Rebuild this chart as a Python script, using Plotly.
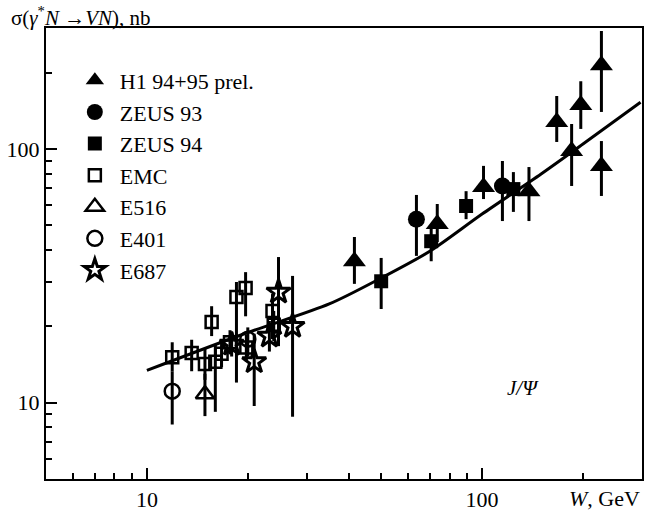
import plotly.graph_objects as go
import math

# ---- data ----
h1_w   = [41.6, 73.5, 101, 138, 185, 167, 197, 227, 227]
h1_s   = [36.1, 50.6, 70.8, 68.2, 98.2, 127.8, 149, 214, 85.8]
h1_hi  = [45, 60.7, 85.8, 84.9, 125.5, 161.8, 185, 292, 107.5]
h1_lo  = [29.4, 43, 63.5, 52, 71.5, 106.6, 120, 140, 65.3]

z93_w  = [63.7, 115]
z93_s  = [52.9, 71.5]
z93_hi = [65.9, 89.7]
z93_lo = [37.9, 52]

z94_w  = [50, 70.5, 89.6, 124]
z94_s  = [30.1, 43.3, 59.6, 69.5]
z94_hi = [37.2, 49, 68.2, 81.1]
z94_lo = [23.4, 36.1, 52.9, 56.5]

emc_w  = [11.9, 13.6, 14.9, 15.6, 16.0, 16.7, 17.7, 18.5, 19.7, 19.8, 23.7, 23.9]
emc_s  = [15.1, 15.7, 14.2, 20.8, 14.5, 15.6, 17.3, 26.1, 28.3, 16.5, 23.0, 20.3]
emc_hi = [17.3, 17.7, 16.3, 24.0, 17.0, 17.5, 19.3, 29.9, 32.7, 18.5, 26.8, 23.0]
emc_lo = [13.3, 13.3, 12.3, 18.3, 9.2, 13.8, 15.5, 12.0, 21.9, 14.5, 17.8, 17.5]

e516_w  = [14.9]
e516_s  = [10.8]
e516_hi = [13.0]
e516_lo = [8.85]

e401_w  = [11.9, 20.0]
e401_s  = [11.1, 17.8]
e401_hi = [13.3, 19.8]
e401_lo = [8.2, 15.2]

e687_w  = [17.9, 20.9, 23.2, 24.7, 27.2]
e687_s  = [17.0, 14.5, 18.3, 27.3, 20.0]
e687_hi = [19.0, 18.7, 21.0, 37.5, 31.6]
e687_lo = [15.2, 9.7, 15.9, 16.7, 8.8]

fit_w = [10, 20, 35, 50, 70, 100, 150, 200, 297]
fit_s = [13.4, 18.9, 24.5, 31.0, 39.6, 55.4, 79.7, 104.6, 153]

x_major = [10, 100]
y_major = [10, 100]
x_minor = [6, 7, 8, 9, 20, 30, 40, 50, 60, 70, 80, 90, 200]
y_minor = [6, 7, 8, 9, 20, 30, 40, 50, 60, 70, 80, 90, 200]

FONT = "Liberation Serif"
RANGE = [math.log10(5), math.log10(300)]

fig = go.Figure()

fig.add_trace(go.Scatter(x=fit_w, y=fit_s, mode="lines",
                         line=dict(color="black", width=3, shape="spline", smoothing=0.8),
                         showlegend=False, hoverinfo="skip"))

def series(name, w, s, hi, lo, symbol, size, lw=0):
    fig.add_trace(go.Scatter(
        x=w, y=s, mode="markers", name=name,
        marker=dict(symbol=symbol, size=size, color="black",
                    line=dict(color="black", width=lw)),
        error_y=dict(type="data", symmetric=False,
                     array=[h - v for h, v in zip(hi, s)],
                     arrayminus=[v - l for v, l in zip(s, lo)],
                     color="black", thickness=3, width=0),
    ))

series("H1 94+95 prel.", h1_w, h1_s, h1_hi, h1_lo, "triangle-up", 20)
series("ZEUS 93", z93_w, z93_s, z93_hi, z93_lo, "circle", 17)
series("ZEUS 94", z94_w, z94_s, z94_hi, z94_lo, "square", 14)
series("EMC", emc_w, emc_s, emc_hi, emc_lo, "square-open", 12, 2.5)
series("E516", e516_w, e516_s, e516_hi, e516_lo, "triangle-up-open", 16, 2.5)
series("E401", e401_w, e401_s, e401_hi, e401_lo, "circle-open", 15, 2.5)
series("E687", e687_w, e687_s, e687_hi, e687_lo, "star-open", 18, 3)

# invisible trace on overlay axes that carry the minor ticks
fig.add_trace(go.Scatter(x=fit_w, y=fit_s, xaxis="x2", yaxis="y2", mode="lines",
                         line=dict(width=0, color="rgba(0,0,0,0)"),
                         showlegend=False, hoverinfo="skip"))

axis_common = dict(
    type="log", showgrid=False, zeroline=False, automargin=False,
    showline=True, linecolor="black", linewidth=2, mirror=True,
    ticks="inside", ticklen=11, tickwidth=2, tickcolor="black",
    tickfont=dict(family=FONT, size=22, color="black"),
)
minor_common = dict(
    type="log", range=RANGE, automargin=False,
    ticks="inside", ticklen=6, tickwidth=2, tickcolor="black",
    showticklabels=False, showgrid=False, zeroline=False, showline=False,
)

fig.update_layout(
    template="none",
    xaxis=dict(range=RANGE, tickvals=x_major, ticktext=[str(v) for v in x_major],
               **axis_common),
    yaxis=dict(range=RANGE, tickvals=y_major, ticktext=[str(v) for v in y_major],
               **axis_common),
    xaxis2=dict(overlaying="x", anchor="y", side="bottom", tickmode="array",
                tickvals=x_minor, **minor_common),
    yaxis2=dict(overlaying="y", anchor="x", side="left", tickmode="array",
                tickvals=y_minor, **minor_common),
)

fig.update_layout(
    width=662, height=512,
    margin=dict(l=46, r=20, t=28, b=33, autoexpand=False),
    paper_bgcolor="white", plot_bgcolor="white",
    font=dict(family=FONT, size=20, color="black"),
    legend=dict(x=0.04, y=0.93, xanchor="left", yanchor="top",
                bgcolor="rgba(0,0,0,0)", borderwidth=0,
                font=dict(family=FONT, size=22, color="black"),
                itemwidth=40),
    annotations=[
        dict(text="σ(<i>γ</i><sup>*</sup><i>N</i> →<i>VN</i>), nb",
             xref="paper", yref="paper", x=-0.062, y=1.0, yshift=27,
             xanchor="left", yanchor="top", showarrow=False,
             font=dict(family=FONT, size=21, color="black")),
        dict(text="<i>W</i>, GeV", xref="paper", yref="paper",
             x=1.0, y=0, yshift=-5, xanchor="right", yanchor="top",
             showarrow=False, font=dict(family=FONT, size=22, color="black")),
        dict(text="<i>J/Ψ</i>", xref="paper", yref="paper",
             x=0.80, y=0.202, xanchor="center", yanchor="middle",
             showarrow=False, font=dict(family=FONT, size=21, color="black")),
    ],
)

fig.write_html("out.html")
